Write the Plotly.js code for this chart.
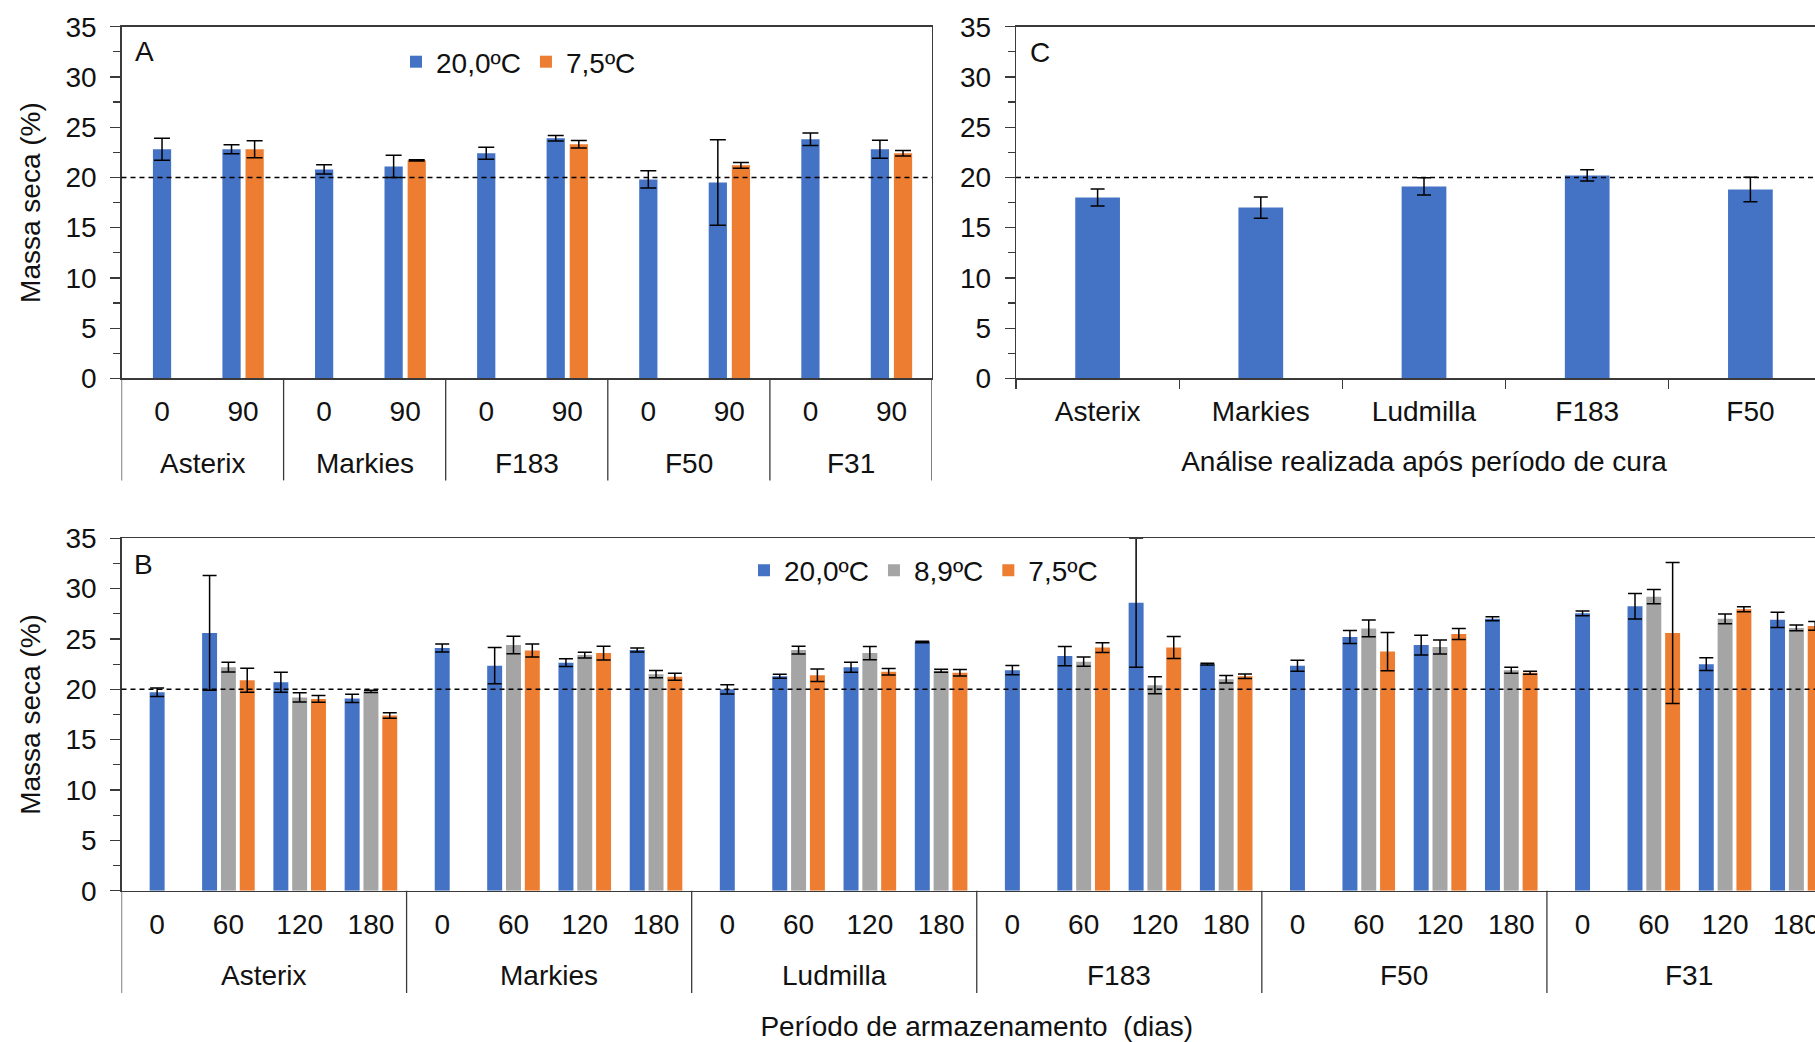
<!DOCTYPE html>
<html>
<head>
<meta charset="utf-8">
<script src="https://cdn.plot.ly/plotly-3.0.1.min.js"></script>
<style>
  html, body { margin: 0; padding: 0; overflow: hidden; background: #fff; }
  #chart { width: 1832px; height: 1042px; }
</style>
</head>
<body>
<div id="chart"></div>
<script>
// ---------------- DATA ----------------
// Panel A: storage 0 / 90 days
const cultivarsA = ['Asterix', 'Markies', 'F183', 'F50', 'F31'];
const periodsA = ['0', '90'];
const massA_initial = [22.8, 20.8, 22.4, 19.8, 23.8];   // day 0
const errA_initial  = [1.1, 0.45, 0.6, 0.86, 0.63];
const massA_20 = [22.8, 21.1, 23.9, 19.5, 22.8];        // day 90, 20,0ºC
const errA_20  = [0.45, 1.1, 0.28, 4.25, 0.9];
const massA_75 = [22.8, 21.7, 23.3, 21.2, 22.4];        // day 90, 7,5ºC
const errA_75  = [0.85, 0.07, 0.38, 0.28, 0.27];

// Panel B: storage 0 / 60 / 120 / 180 days
const cultivarsB = ['Asterix', 'Markies', 'Ludmilla', 'F183', 'F50', 'F31'];
const periodsB = ['0', '60', '120', '180'];
const massB_initial = [19.7, 24.1, 20.0, 21.9, 22.35, 27.55];   // day 0
const errB_initial  = [0.42, 0.4, 0.46, 0.46, 0.55, 0.23];
// values for 60, 120, 180 days, cultivar by cultivar
const massB_20 = [25.6, 20.7, 19.1,  22.35, 22.65, 23.9,  21.3, 22.2, 24.7,  23.3, 28.6, 22.5,  25.2, 24.4, 27.0,  28.25, 22.5, 26.9];
const errB_20  = [5.7, 1.0, 0.41,    1.8, 0.38, 0.2,      0.2, 0.5, 0.08,    0.96, 6.4, 0.08,   0.65, 0.98, 0.2,   1.27, 0.63, 0.76];
const massB_89 = [22.2, 19.2, 19.8,  24.4, 23.4, 21.5,    23.9, 23.6, 21.85, 22.75, 20.4, 21.0, 26.05, 24.2, 21.9, 29.2, 27.0, 26.1];
const errB_89  = [0.48, 0.46, 0.12,  0.86, 0.28, 0.36,    0.38, 0.66, 0.15,  0.46, 0.85, 0.38,  0.84, 0.7, 0.3,    0.71, 0.48, 0.28];
const massB_75 = [20.9, 19.05, 17.4, 23.85, 23.6, 21.25,  21.4, 21.75, 21.65, 24.15, 24.15, 21.3, 23.75, 25.5, 21.65, 25.6, 27.95, 26.3];
const errB_75  = [1.2, 0.33, 0.27,   0.65, 0.68, 0.35,    0.63, 0.33, 0.33,  0.48, 1.1, 0.23,   1.9, 0.55, 0.15,   7.0, 0.25, 0.43];

// Panel C: after curing
const cultivarsC = ['Asterix', 'Markies', 'Ludmilla', 'F183', 'F50'];
const massC = [18.0, 17.0, 19.1, 20.2, 18.8];
const errC  = [0.85, 1.05, 0.86, 0.56, 1.23];

const legendLabels = ['20,0ºC', '8,9ºC', '7,5ºC'];
const refLine = 20;

// ---------------- STYLE ----------------
const W = 1832, H = 1042;
const fx = p => p / W;
const fy = p => 1 - p / H;
const FONT = 'Liberation Sans, Arial, sans-serif';
const TXT = '#111111';
const AX = '#3a3a3a';
const BLUE = '#4472C4', GRAY = '#A5A5A5', ORANGE = '#ED7D31';

const key = (c, p) => c + '|' + p;
const keysA = [];  cultivarsA.forEach(c => periodsA.forEach(p => keysA.push(key(c, p))));
const keysB = [];  cultivarsB.forEach(c => periodsB.forEach(p => keysB.push(key(c, p))));
const ticksA = keysA.map(k => k.split('|')[1]);
const ticksB = keysB.map(k => k.split('|')[1]);

const storedA = cultivarsA.map(c => key(c, periodsA[1]));
const storedB = [];
cultivarsB.forEach(c => periodsB.slice(1).forEach(p => storedB.push(key(c, p))));

function err(arr, w) {
  return { type: 'data', array: arr, visible: true, color: '#000', thickness: 1.5, width: w };
}

const wA = 0.225, wB = 0.21, wC = 0.274;

const traces = [
  // Panel A
  { type: 'bar', x: cultivarsA.map(c => key(c, '0')), y: massA_initial, error_y: err(errA_initial, 8),
    marker: { color: BLUE }, width: wA, xaxis: 'x', yaxis: 'y', showlegend: false, name: legendLabels[0] },
  { type: 'bar', x: storedA, y: massA_20, error_y: err(errA_20, 8), marker: { color: BLUE },
    width: wA, offset: -0.255, xaxis: 'x', yaxis: 'y', name: legendLabels[0], legend: 'legend' },
  { type: 'bar', x: storedA, y: massA_75, error_y: err(errA_75, 8), marker: { color: ORANGE },
    width: wA, offset: 0.03, xaxis: 'x', yaxis: 'y', name: legendLabels[2], legend: 'legend' },
  // Panel B
  { type: 'bar', x: cultivarsB.map(c => key(c, '0')), y: massB_initial, error_y: err(errB_initial, 7),
    marker: { color: BLUE }, width: wB, xaxis: 'x2', yaxis: 'y2', showlegend: false, name: legendLabels[0] },
  { type: 'bar', x: storedB, y: massB_20, error_y: err(errB_20, 7), marker: { color: BLUE },
    width: wB, offset: -0.369, xaxis: 'x2', yaxis: 'y2', name: legendLabels[0], legend: 'legend2' },
  { type: 'bar', x: storedB, y: massB_89, error_y: err(errB_89, 7), marker: { color: GRAY },
    width: wB, offset: -0.105, xaxis: 'x2', yaxis: 'y2', name: legendLabels[1], legend: 'legend2' },
  { type: 'bar', x: storedB, y: massB_75, error_y: err(errB_75, 7), marker: { color: ORANGE },
    width: wB, offset: 0.159, xaxis: 'x2', yaxis: 'y2', name: legendLabels[2], legend: 'legend2' },
  // Panel C
  { type: 'bar', x: cultivarsC, y: massC, error_y: err(errC, 7), marker: { color: BLUE },
    width: wC, xaxis: 'x3', yaxis: 'y3', showlegend: false, name: legendLabels[0] }
];

const font28 = { family: FONT, size: 28, color: TXT };

function yAxis(domain, anchor, withTitle) {
  const a = {
    domain: domain, anchor: anchor, range: [0, 35], tick0: 0, dtick: 5,
    ticks: 'outside', ticklen: 10, tickwidth: 1.3, tickcolor: AX,
    minor: { dtick: 2.5, ticks: 'outside', ticklen: 7, tickwidth: 1.3, tickcolor: AX, showgrid: false },
    showline: true, linecolor: AX, linewidth: 1.3, mirror: true,
    showgrid: false, zeroline: false, tickfont: font28, ticklabelstandoff: 8, fixedrange: true
  };
  if (withTitle) a.title = { text: 'Massa seca (%)', font: font28, standoff: 16 };
  return a;
}

function xCat(domain, anchor, keys, ticktext, range, extra) {
  return Object.assign({
    domain: domain, anchor: anchor, type: 'category', categoryorder: 'array', categoryarray: keys,
    tickvals: keys, ticktext: ticktext, range: range, ticks: '',
    showline: true, linecolor: AX, linewidth: 1.3, mirror: true,
    showgrid: false, zeroline: false, tickfont: font28, ticklabelstandoff: 8, fixedrange: true
  }, extra || {});
}

const yDomTop = [fy(378.4), fy(26.7)];
const yDomB = [fy(890.7), fy(538.3)];

const shapes = [];
const annotations = [];

// reference lines at 20 %
['', '2', '3'].forEach(s => {
  shapes.push({ type: 'line', xref: 'x' + s + ' domain', yref: 'y' + s, x0: 0, x1: 1, y0: refLine, y1: refLine,
    line: { color: '#000', width: 1.5, dash: '5px,4px' }, layer: 'above' });
});

// group dividers and group labels
function groups(cultivars, nPer, xref, yTopPx, yBotPx, labelPx) {
  for (let i = 0; i <= cultivars.length; i++) {
    shapes.push({ type: 'line', xref: xref, yref: 'paper', x0: i * nPer - 0.5, x1: i * nPer - 0.5,
      y0: fy(yTopPx), y1: fy(yBotPx), line: { color: AX, width: 1.3 } });
  }
  cultivars.forEach((c, i) => {
    annotations.push({ xref: xref, yref: 'paper', x: i * nPer + (nPer - 1) / 2, y: fy(labelPx),
      text: c, showarrow: false, xanchor: 'center', yanchor: 'middle', font: font28 });
  });
}
groups(cultivarsA, periodsA.length, 'x', 378.4, 480.4, 464);
groups(cultivarsB, periodsB.length, 'x2', 890.7, 993, 975.5);

// panel letters
[['A', 144.5, 51.7], ['B', 143, 564], ['C', 1039.5, 52]].forEach(t => {
  annotations.push({ xref: 'paper', yref: 'paper', x: fx(t[1]), y: fy(t[2]), text: t[0], showarrow: false,
    xanchor: 'center', yanchor: 'middle', font: font28 });
});

const legendCommon = { orientation: 'h', font: font28, bgcolor: 'rgba(0,0,0,0)', borderwidth: 0,
  xanchor: 'left', yanchor: 'middle', traceorder: 'normal' };

const layout = {
  width: W, height: H,
  margin: { l: 0, r: 0, t: 0, b: 0 },
  paper_bgcolor: '#fff', plot_bgcolor: '#fff',
  font: font28,
  barmode: 'overlay',
  xaxis: xCat([fx(121.5), fx(932)], 'y', keysA, ticksA, [-0.5, keysA.length - 0.5]),
  yaxis: yAxis(yDomTop, 'x', true),
  xaxis2: xCat([fx(121.5), 1], 'y2', keysB, ticksB, [-0.5, keysB.length - 0.5],
    { title: { text: 'Período de armazenamento  (dias)', font: font28, standoff: 82 } }),
  yaxis2: yAxis(yDomB, 'x2', true),
  xaxis3: {
    domain: [fx(1016), 1], anchor: 'y3', type: 'category', categoryorder: 'array', categoryarray: cultivarsC,
    range: [-0.5, cultivarsC.length - 0.5], ticks: 'outside', tickson: 'boundaries', ticklen: 9,
    tickwidth: 1.3, tickcolor: AX, showline: true, linecolor: AX, linewidth: 1.3, mirror: true,
    showgrid: false, zeroline: false, tickfont: font28, ticklabelstandoff: 8, fixedrange: true,
    title: { text: 'Análise realizada após período de cura', font: font28, standoff: 25 }
  },
  yaxis3: yAxis(yDomTop, 'x3', false),
  legend: Object.assign({ x: fx(396), y: fy(62) }, legendCommon),
  legend2: Object.assign({ x: fx(744), y: fy(570.5) }, legendCommon),
  shapes: shapes,
  annotations: annotations
};

Plotly.newPlot('chart', traces, layout, { displayModeBar: false, staticPlot: true });
</script>
</body>
</html>
